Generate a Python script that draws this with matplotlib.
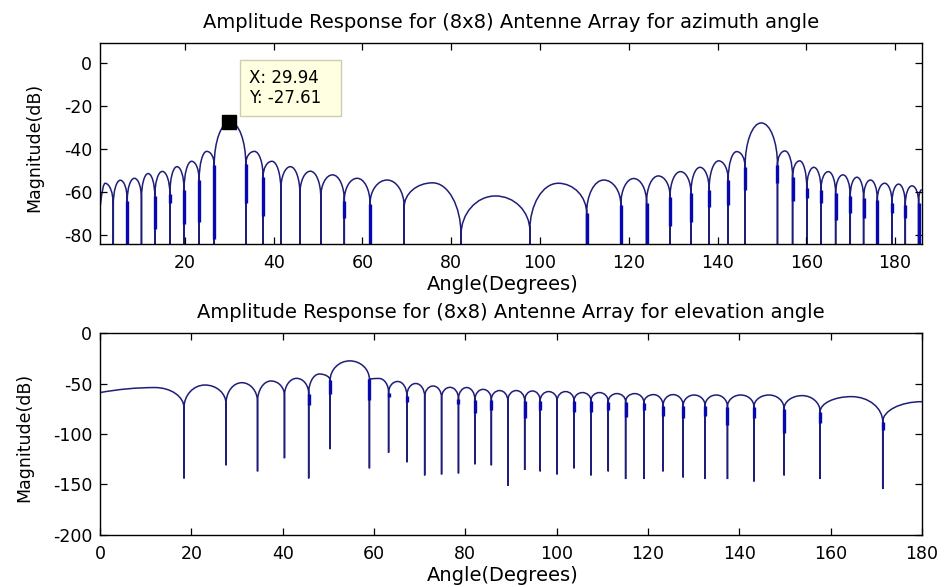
import matplotlib
matplotlib.use('Agg')
import matplotlib.pyplot as plt
from matplotlib.path import Path
from matplotlib.patches import PathPatch

# ---- azimuth panel, values ----
az_nulls = [3.85, 7.0, 10.2, 13.2, 16.6, 19.8, 23.2, 26.6, 33.7, 37.6, 41.6, 45.9,
            50.6, 55.9, 61.7, 69.4, 82.2, 97.7, 110.5, 118.2, 124.0, 129.3, 134.0,
            138.1, 142.4, 146.2, 153.5, 156.9, 160.1, 163.3, 166.6, 169.9, 172.9,
            176.0, 179.3, 182.3, 185.3]
# lobe tops: before first null, between each pair of nulls, after last null
az_peaks = [-56.0, -54.6, -53.7, -51.5, -50.5, -48.3, -45.8, -41.2, -27.6, -41.2,
            -45.8, -48.3, -50.4, -52.1, -53.7, -54.5, -55.8, -61.9, -56.0, -54.5,
            -53.8, -52.6, -50.6, -48.6, -45.6, -41.3, -28.0, -41.0, -45.6, -48.6,
            -50.6, -52.1, -53.2, -54.5, -56.0, -56.4, -57.2, -59.0]
# level where the lobe turns into the null spike
az_shoulders = [-66, -64, -63, -62, -61, -59, -54.5, -47.5, -47, -53, -59, -61,
                -62.5, -64, -65.5, -67, -80, -78, -70, -66, -65, -62.2, -60.7, -59,
                -54.5, -48.3, -47.5, -53.2, -58.3, -59, -60.7, -62, -63, -63.7, -65,
                -66, -65]
az_thick = [None, -84, None, -77, -65, -75, -74, -82, -65, -71, None, None, None,
            -72, -84, None, None, None, -84, -84, -84, -76, -74, -67, -66, -59, -56,
            -64, -63, -65, -73, -70, -72, -84, -70, -72, -84]
az_null_depth = -100.0
az_start = (0.95, -66.0)
az_first_peak_x = 2.0
az_end_x = 186.0

# ---- elevation panel ----
el_nulls = [18.4, 27.6, 34.5, 40.4, 45.7, 50.4, 59.0, 63.2, 67.2, 71.1, 74.8, 78.5,
            82.1, 85.7, 89.3, 93.0, 96.4, 100.1, 103.8, 107.5, 111.3, 115.1, 119.1,
            123.3, 127.7, 132.5, 137.4, 143.2, 149.8, 157.7, 171.4]
el_depths = [-144, -131, -137, -124, -144, -115, -134, -118.5, -128, -141, -140,
             -139, -130, -131, -151.5, -135.6, -137, -140, -134, -141, -137, -144.6,
             -144.6, -137, -143, -144.6, -144.6, -147, -141, -144.6, -154.5]
el_peaks = [-54, -51.5, -49.2, -47.5, -44.9, -40.6, -27.6, -45, -48, -50, -52.5,
            -53.8, -54, -55.8, -57, -57, -57.4, -58, -58, -59, -59, -60, -60, -61,
            -61, -61.4, -61.4, -61.4, -61.4, -62, -63, -68]
el_shoulders = [-74, -70, -68, -62, -60, -47, -46, -59, -62, -63, -64, -65, -66, -66,
                -67, -67, -67, -67, -67, -67, -68, -68, -69, -72, -72, -72, -73, -73,
                -75, -78, -88]
el_thick = [None, None, None, None, -71, -60, -66, -63, -68, None, None, -70, -79,
            -76, None, -84, -76, None, -78, -78, -76, -83, -76, -82, -84, -82, -91,
            -84, -99, -89, -96]
el_start = (0.0, -59.0)
el_first_peak_x = 12.0
el_end_x = 180.0

tip_x, tip_y = 29.94, -27.61

line_col = '#1e1e78'
thick_col = '#0808b0'
K = 0.5523


def pattern_path(nulls, peaks, shoulders, depths, start, first_peak_x, end_x):
    verts = [start, ((start[0] + first_peak_x) / 2, peaks[0]), (first_peak_x, peaks[0])]
    codes = [Path.MOVETO, Path.CURVE3, Path.CURVE3]
    xp, yp = first_peak_x, peaks[0]
    for i, xn in enumerate(nulls):
        s = shoulders[i]
        # down to the null
        verts += [(xp + K * (xn - xp), yp), (xn, s + K * (yp - s)), (xn, s)]
        codes += [Path.CURVE4] * 3
        verts += [(xn, depths[i]), (xn, s)]
        codes += [Path.LINETO] * 2
        # up to the next lobe top
        xt = (xn + nulls[i + 1]) / 2 if i + 1 < len(nulls) else end_x
        yt = peaks[i + 1]
        verts += [(xn, s + K * (yt - s)), (xt - K * (xt - xn), yt), (xt, yt)]
        codes += [Path.CURVE4] * 3
        xp, yp = xt, yt
    return Path(verts, codes)


def draw(ax, nulls, peaks, shoulders, depths, thick, start, first_peak_x, end_x):
    p = pattern_path(nulls, peaks, shoulders, depths, start, first_peak_x, end_x)
    ax.add_patch(PathPatch(p, fill=False, edgecolor=line_col, lw=1.1))
    xs = [x for x, t in zip(nulls, thick) if t is not None]
    y0 = [s for s, t in zip(shoulders, thick) if t is not None]
    y1 = [t for t in thick if t is not None]
    ax.vlines(xs, y0, y1, colors=thick_col, lw=2.4)


plt.rcParams['font.family'] = ['DejaVu Sans']
plt.rcParams['axes.unicode_minus'] = False
fig = plt.figure(figsize=(9.44, 5.87), dpi=100)
ax1 = fig.add_axes([0.1059, 0.5843, 0.8705, 0.3424])
ax2 = fig.add_axes([0.1059, 0.0886, 0.8708, 0.3441])

draw(ax1, az_nulls, az_peaks, az_shoulders, [az_null_depth] * len(az_nulls),
     az_thick, az_start, az_first_peak_x, az_end_x)
draw(ax2, el_nulls, el_peaks, el_shoulders, el_depths, el_thick,
     el_start, el_first_peak_x, el_end_x)

ax1.set_xlim(0.85, 186.0)
ax1.set_ylim(-84.2, 9.1)
ax1.set_xticks(range(20, 181, 20))
ax1.set_yticks(range(-80, 1, 20))
ax2.set_xlim(0, 180)
ax2.set_ylim(-200, 0)
ax2.set_xticks(range(0, 181, 20))
ax2.set_yticks(range(-200, 1, 50))

ax1.set_title('Amplitude Response for (8x8) Antenne Array for azimuth angle',
              fontsize=14, pad=11)
ax2.set_title('Amplitude Response for (8x8) Antenne Array for elevation angle',
              fontsize=14, pad=11)

for ax, ylx, yly in ((ax1, -0.0694, 0.48), (ax2, -0.0815, 0.485)):
    ax.tick_params(direction='in', top=True, right=True, length=5, width=0.9,
                   labelsize=12.5)
    ax.tick_params(axis='x', pad=7)
    ax.tick_params(axis='y', pad=5.5)
    for sp in ax.spines.values():
        sp.set_linewidth(1.0)
    ax.set_xlabel('Angle(Degrees)', fontsize=14)
    ax.set_ylabel('Magnitude(dB)', fontsize=12.5)
    ax.xaxis.set_label_coords(0.49, -0.155)
    ax.yaxis.set_label_coords(ylx, yly)

# data tip
ax1.plot([tip_x], [tip_y], marker='s', color='black', markersize=10, zorder=5)
ax1.annotate('X: %.2f  \nY: %.2f  ' % (tip_x, tip_y), xy=(tip_x, tip_y),
             xytext=(20, 15), textcoords='offset pixels', ha='left', va='bottom',
             fontsize=12, linespacing=1.15,
             bbox=dict(boxstyle='square,pad=0.55', fc='#ffffe1', ec='#cdcdb4', lw=1.0))

fig.savefig('out.png', dpi=100)
